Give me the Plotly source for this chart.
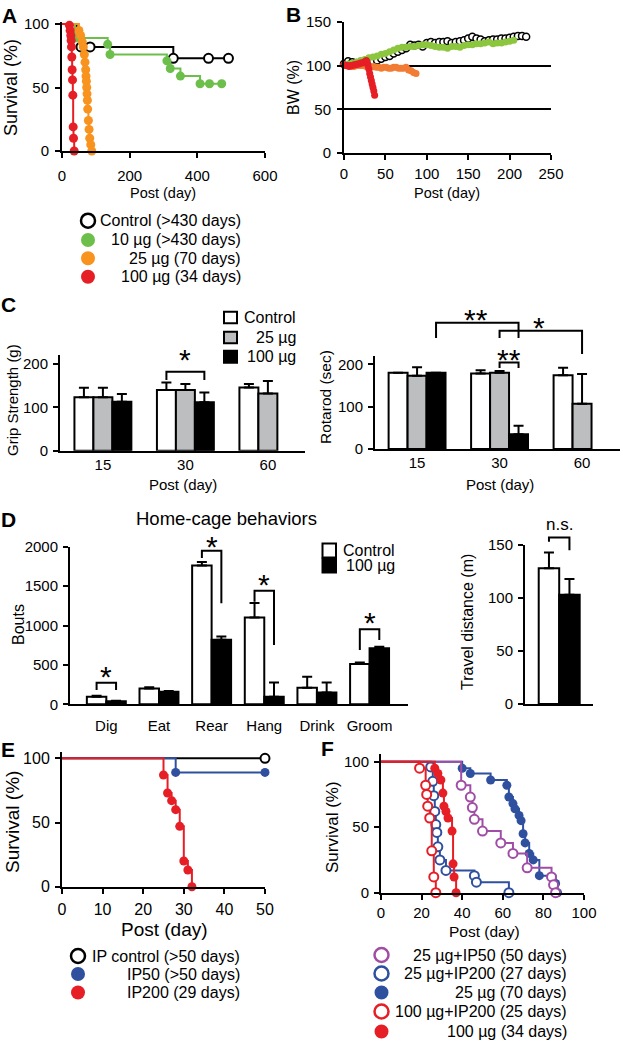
import plotly.graph_objects as go

W, H = 623, 1042
FONT = "Liberation Sans, Arial, sans-serif"

BLACK = "black"
GREEN = "#6cbf4a"
ORANGE = "#f7931e"
RED = "#e61e25"
BLUE = "#2f4f9f"
PURPLE = "#a04ea5"
GREY = "#bcbec0"
B_GREEN = "#8cc63f"
B_ORANGE = "#f27c33"

# ================= DATA =================
# Panel A : survival after injection (Kaplan-Meier)
A_ctrl_day = [0, 43, 56, 83, 329, 433, 492]
A_ctrl_surv = [100, 91, 82, 82, 73, 73, 73]
A_10_day = [0, 38, 135, 142, 310, 320, 350, 408, 436, 472]
A_10_surv = [100, 89, 84, 76, 71, 65, 59, 53, 53, 53]
A_25_day = [0, 50, 55, 60, 63, 66, 68, 70, 71, 72, 73, 74, 75, 76, 78, 80, 82, 85, 88]
A_25_surv = [100, 95, 91, 86, 82, 76, 70, 64, 59, 55, 50, 45, 40, 33, 24, 17, 10, 5, 0]
A_100_day = [0, 22, 24, 26, 27, 28, 29, 30, 31, 32, 33, 34, 36]
A_100_surv = [100, 99, 95, 91, 87, 82, 74, 64, 56, 44, 19, 10, 0]
A_labels = ["Control (>430 days)", "10 µg (>430 days)", "25 µg (70 days)", "100 µg (34 days)"]

# Panel B : body weight (%)
B_ctrl_day = [0, 5, 10, 15, 20, 25, 30, 35, 40, 45, 50, 55, 60, 65, 70, 75, 80, 85, 90, 95, 100,
              105, 110, 115, 120, 125, 130, 135, 140, 145, 150, 155, 160, 165, 170, 175, 180,
              185, 190, 195, 200, 205, 210, 215, 220]
B_ctrl_bw = [102, 105, 104, 103, 102, 103, 104, 105, 106, 108, 110, 111, 114, 116, 118, 120, 124,
             123, 124, 122, 126, 127, 126, 127, 127, 128, 126, 127, 128, 129, 131, 133, 131, 130,
             128, 129, 130, 130, 131, 131, 132, 133, 134, 134, 133]
B_10_day = [0, 5, 10, 15, 20, 25, 30, 35, 40, 45, 50, 55, 60, 65, 70, 75, 80, 85, 90, 95, 100,
            105, 110, 115, 120, 125, 130, 135, 140, 145, 150, 155, 160, 165, 170, 175, 180, 185,
            190, 195, 200, 205]
B_10_bw = [101, 102, 103, 104, 106, 107, 109, 110, 111, 113, 114, 116, 118, 120, 121, 121, 122,
           122, 123, 124, 124, 123, 122, 121, 121, 120, 122, 122, 121, 123, 124, 124, 125, 125,
           126, 127, 125, 126, 126, 127, 128, 129]
B_25_day = [0, 3, 6, 9, 12, 15, 18, 21, 24, 27, 30, 33, 36, 39, 42, 45, 48, 51, 54, 57, 60, 63,
            66, 69, 72, 75, 78, 81, 84, 87]
B_25_bw = [101, 100, 100, 99, 99, 100, 100, 100, 100, 99, 98, 98, 99, 98, 98, 97, 98, 98, 97, 97,
           98, 98, 97, 97, 97, 98, 95, 94, 92, 91]
B_100_day = [0, 2, 4, 6, 8, 10, 12, 14, 16, 18, 20, 22, 24, 26, 27, 28, 29, 30, 31, 32, 33, 34,
             35, 36, 37]
B_100_bw = [101, 100, 100, 99, 100, 100, 101, 101, 102, 102, 103, 103, 104, 105, 106, 104, 100,
            96, 91, 87, 83, 79, 75, 71, 66]

# Panel C : grip strength and rotarod (mean, SEM)
C_days = ["15", "30", "60"]
C_grip_ctrl = [123, 140, 146]
C_grip_ctrl_err = [22, 17, 8]
C_grip_25 = [123, 140, 132]
C_grip_25_err = [22, 14, 29]
C_grip_100 = [113, 112]
C_grip_100_err = [18, 22]
C_rot_ctrl = [180, 178, 174]
C_rot_ctrl_err = [0, 8, 18]
C_rot_25 = [173, 180, 107]
C_rot_25_err = [20, 4, 70]
C_rot_100 = [180, 35]
C_rot_100_err = [0, 20]
C_labels = ["Control", "25 µg", "100 µg"]

# Panel D : home-cage behaviors and travel distance
D_cats = ["Dig", "Eat", "Rear", "Hang", "Drink", "Groom"]
D_ctrl = [95, 200, 1760, 1100, 210, 510]
D_ctrl_err = [12, 15, 45, 185, 140, 20]
D_100 = [40, 160, 820, 95, 150, 710]
D_100_err = [5, 10, 40, 183, 127, 20]
D_travel = [128, 103]
D_travel_err = [15, 15]
D_labels = ["Control", "100 µg"]

# Panel E : IP survival
E_ctrl_day = [0, 50]
E_ctrl_surv = [100, 100]
E_50_day = [0, 28, 50]
E_50_surv = [100, 89, 89]
E_200_day = [0, 25, 26, 27, 28, 29, 30, 31, 32]
E_200_surv = [100, 87, 73, 67, 60, 47, 20, 13, 0]
E_labels = ["IP control (>50 days)", "IP50 (>50 days)", "IP200 (29 days)"]

# Panel F : combined survival
F_p50_day = [0, 39.5, 44, 45, 46, 50, 59, 65, 72, 84, 85, 86]
F_p50_surv = [100, 82, 73, 65, 56, 47, 38, 30, 19, 12, 6, 0]
F_p200_day = [0, 24.5, 25.5, 26, 26.5, 27, 27.5, 28, 29, 32, 46, 47, 63]
F_p200_surv = [100, 96, 85, 74, 62, 52, 46, 35, 25, 17, 13, 8, 0]
F_25_day = [0, 40, 44, 54, 62, 63, 65, 66, 68, 69, 70, 71, 73, 75, 78, 86, 87]
F_25_surv = [100, 95, 91, 86, 82, 73, 68, 64, 59, 55, 45, 38, 30, 25, 13, 7, 0]
F_r200_day = [0, 19, 22, 22.5, 23, 24, 25, 26, 27]
F_r200_surv = [100, 95, 82, 75, 66, 57, 32, 12, 0]
F_r100_day = [0, 26.5, 28, 29.5, 30.5, 31, 32, 33, 35, 35.5, 36, 37]
F_r100_surv = [100, 95, 91, 86, 76, 66, 62, 57, 47, 22, 12, 0]
F_labels = ["25 µg+IP50 (50 days)", "25 µg+IP200 (27 days)", "25 µg (70 days)",
            "100 µg+IP200 (25 days)", "100 µg (34 days)"]

# ================= LAYOUT GEOMETRY (pixels) =================
AX = {
    "A": dict(n=1, xpx=(62, 265), xr=(0, 600), ypx=(151, 21.5), yr=(0, 102)),
    "B": dict(n=2, xpx=(344, 551), xr=(0, 250), ypx=(153, 21.5), yr=(0, 150.5)),
    "Cl": dict(n=3, xpx=(60, 305), xr=(-0.52, 2.45), ypx=(450.7, 355.3), yr=(0, 220)),
    "Cr": dict(n=4, xpx=(375, 620), xr=(-0.51, 2.46), ypx=(449, 355.8), yr=(0, 220)),
    "Dl": dict(n=5, xpx=(70, 408), xr=(-0.69, 5.73), ypx=(704.3, 546.7), yr=(0, 2000)),
    "Dr": dict(n=6, xpx=(525, 593), xr=(-1.17, 2.15), ypx=(704, 545), yr=(0, 150)),
    "E": dict(n=7, xpx=(62, 265), xr=(0, 50), ypx=(886.7, 751.9), yr=(0, 105)),
    "F": dict(n=8, xpx=(381, 584), xr=(0, 100), ypx=(892.7, 753.8), yr=(0, 106)),
}


def ref(k):
    n = AX[k]["n"]
    s = "" if n == 1 else str(n)
    return "x" + s, "y" + s


def xpix(k, v):
    a = AX[k]
    x0, x1 = a["xpx"]
    r0, r1 = a["xr"]
    return x0 + (v - r0) / (r1 - r0) * (x1 - x0)


def ypix(k, v):
    a = AX[k]
    y0, y1 = a["ypx"]
    r0, r1 = a["yr"]
    return y0 + (v - r0) / (r1 - r0) * (y1 - y0)


fig = go.Figure()
shapes = []
anns = []


def text(px, py, s, size, angle=0, xanchor="center", yshift=0):
    anns.append(dict(x=px / W, y=1 - py / H, xref="paper", yref="paper", text=s,
                     showarrow=False, textangle=angle, xanchor=xanchor, yanchor="middle",
                     yshift=yshift, font=dict(family=FONT, size=size, color="black")))


def circle(cx, cy, d, fill, line, lw=2.5):
    r = d / 2
    shapes.append(dict(type="circle", xref="paper", yref="paper",
                       x0=(cx - r) / W, x1=(cx + r) / W, y0=1 - (cy + r) / H, y1=1 - (cy - r) / H,
                       fillcolor=fill, line=dict(color=line, width=lw if line != fill else 0)))


def square(x0, y0, x1, y1, fill):
    shapes.append(dict(type="rect", xref="paper", yref="paper",
                       x0=x0 / W, x1=x1 / W, y0=1 - y1 / H, y1=1 - y0 / H,
                       fillcolor=fill, line=dict(color="black", width=2)))


def bracket(k, xa, xb, ytop, yla, ylb):
    pts = [(xpix(k, xa), ypix(k, yla)), (xpix(k, xa), ypix(k, ytop)),
           (xpix(k, xb), ypix(k, ytop)), (xpix(k, xb), ypix(k, ylb))]
    path = "M " + " L ".join(f"{px / W:.5f},{1 - py / H:.5f}" for px, py in pts)
    shapes.append(dict(type="path", xref="paper", yref="paper", path=path,
                       line=dict(color="black", width=2)))


def star(k, x, y, s, size=30):
    text(xpix(k, x), ypix(k, y), s, size, yshift=-6.5)


def km(k, days, surv, color, filled, size=9, lw=2):
    xa, ya = ref(k)
    n = len(days)
    fig.add_trace(go.Scatter(
        x=days, y=surv, mode="lines+markers", xaxis=xa, yaxis=ya, cliponaxis=False,
        line=dict(color=color, width=lw, shape="hv"),
        marker=dict(size=[0] + [size] * (n - 1), opacity=[0] + [1] * (n - 1), symbol="circle",
                    color=color if filled else "white",
                    line=dict(color=color, width=0 if filled else 2)),
        showlegend=False, hoverinfo="skip"))


def bars(k, x, y, err, fill, offset, width):
    xa, ya = ref(k)
    fig.add_trace(go.Bar(
        x=x, y=y, xaxis=xa, yaxis=ya, offset=offset, width=width,
        marker=dict(color=fill, line=dict(color="black", width=2)),
        error_y=dict(type="data", symmetric=False, array=err, arrayminus=[0] * len(err),
                     color="black", thickness=2, width=5),
        showlegend=False, hoverinfo="skip"))


# ---------------- Panel A ----------------
km("A", A_ctrl_day, A_ctrl_surv, BLACK, False)
km("A", A_10_day, A_10_surv, GREEN, True)
km("A", A_25_day, A_25_surv, ORANGE, True)
km("A", A_100_day, A_100_surv, RED, True)

# ---------------- Panel B ----------------
xa, ya = ref("B")
for d, v, c, filled in [(B_ctrl_day, B_ctrl_bw, BLACK, False), (B_10_day, B_10_bw, B_GREEN, True),
                        (B_25_day, B_25_bw, B_ORANGE, True), (B_100_day, B_100_bw, RED, True)]:
    fig.add_trace(go.Scatter(
        x=d, y=v, mode="markers", xaxis=xa, yaxis=ya, cliponaxis=False,
        marker=dict(size=7, color=c if filled else "white", line=dict(color=c, width=0 if filled else 1.5)),
        showlegend=False, hoverinfo="skip"))

# ---------------- Panel C ----------------
wC = 0.23
gpos = [0, 1, 2]
bars("Cl", gpos, C_grip_ctrl, C_grip_ctrl_err, "white", -1.5 * wC, wC)
bars("Cl", gpos, C_grip_25, C_grip_25_err, GREY, -0.5 * wC, wC)
bars("Cl", gpos[:2], C_grip_100, C_grip_100_err, "black", 0.5 * wC, wC)
bars("Cr", gpos, C_rot_ctrl, C_rot_ctrl_err, "white", -1.5 * wC, wC)
bars("Cr", gpos, C_rot_25, C_rot_25_err, GREY, -0.5 * wC, wC)
bars("Cr", gpos[:2], C_rot_100, C_rot_100_err, "black", 0.5 * wC, wC)

# ---------------- Panel D ----------------
wD = 0.37
dpos = list(range(len(D_cats)))
bars("Dl", dpos, D_ctrl, D_ctrl_err, "white", -wD, wD)
bars("Dl", dpos, D_100, D_100_err, "black", 0, wD)
bars("Dr", [0], D_travel[:1], D_travel_err[:1], "white", -0.5, 1)
bars("Dr", [1], D_travel[1:], D_travel_err[1:], "black", -0.5, 1)

# ---------------- Panel E ----------------
km("E", E_ctrl_day, E_ctrl_surv, BLACK, False, size=9)
km("E", E_50_day, E_50_surv, BLUE, True, size=9)
km("E", E_200_day, E_200_surv, RED, True, size=9)

# ---------------- Panel F ----------------
km("F", F_25_day, F_25_surv, BLUE, True, size=9)
km("F", F_p50_day, F_p50_surv, PURPLE, False, size=9)
km("F", F_p200_day, F_p200_surv, BLUE, False, size=9)
km("F", F_r100_day, F_r100_surv, RED, True, size=9)
km("F", F_r200_day, F_r200_surv, RED, False, size=9)

# ================= AXES =================
base = dict(showline=True, linecolor="black", linewidth=2, ticks="outside", ticklen=5,
            tickwidth=2, tickcolor="black", showgrid=False, zeroline=False, fixedrange=True,
            automargin=False, tickfont=dict(family=FONT, size=15, color="black"))

axis_opts = {
    "A": (dict(tickvals=[0, 200, 400, 600], ticklabelstandoff=5),
          dict(tickvals=[0, 50, 100], ticklabelstandoff=3)),
    "B": (dict(tickvals=[0, 50, 100, 150, 200, 250], ticklabelstandoff=1),
          dict(tickvals=[0, 50, 100, 150], showgrid=True, gridcolor="black", gridwidth=1.5,
               ticklabelstandoff=3)),
    "Cl": (dict(tickvals=gpos, ticktext=C_days, ticks="", ticklen=0, ticklabelstandoff=-1),
           dict(tickvals=[0, 100, 200], ticklabelstandoff=2)),
    "Cr": (dict(tickvals=gpos, ticktext=C_days, ticks="", ticklen=0, ticklabelstandoff=-1),
           dict(tickvals=[0, 100, 200], ticklabelstandoff=2)),
    "Dl": (dict(tickvals=dpos, ticktext=D_cats, ticks="", ticklen=0, ticklabelstandoff=7),
           dict(tickvals=[0, 500, 1000, 1500, 2000], ticklabelstandoff=2)),
    "Dr": (dict(showticklabels=False, ticks="", ticklen=0),
           dict(tickvals=[0, 50, 100, 150], ticklabelstandoff=2)),
    "E": (dict(tickvals=[0, 10, 20, 30, 40, 50], ticklabelstandoff=2,
               tickfont=dict(family=FONT, size=16, color="black")),
          dict(tickvals=[0, 50, 100], ticklabelstandoff=2,
               tickfont=dict(family=FONT, size=16, color="black"))),
    "F": (dict(tickvals=[0, 20, 40, 60, 80, 100], ticklabelstandoff=0),
          dict(tickvals=[0, 50, 100], ticklabelstandoff=2)),
}

layout_axes = {}
for k, a in AX.items():
    n = a["n"]
    s = "" if n == 1 else str(n)
    xo, yo = axis_opts[k]
    xd = dict(base)
    xd.update(domain=[a["xpx"][0] / W, a["xpx"][1] / W], range=list(a["xr"]), anchor="y" + s)
    xd.update(xo)
    yd = dict(base)
    yd.update(domain=[1 - a["ypx"][0] / H, 1 - a["ypx"][1] / H], range=list(a["yr"]), anchor="x" + s)
    yd.update(yo)
    layout_axes["xaxis" + s] = xd
    layout_axes["yaxis" + s] = yd

# ================= TEXT, LEGENDS, BRACKETS =================
# panel letters
for L, (px, py) in {"A": (10, 16), "B": (293, 15), "C": (8, 304), "D": (8, 519),
                    "E": (8, 749), "F": (327, 748)}.items():
    text(px, py, f"<b>{L}</b>", 21)

# axis titles
text(11, 88, "Survival (%)", 18, angle=-90)
text(163, 193, "Post (day)", 14.5)
text(293, 88, "BW (%)", 16, angle=-90)
text(447, 193, "Post (day)", 14.5)
text(12, 400, "Grip Strength (g)", 15, angle=-90)
text(183, 485, "Post (day)", 15)
text(325, 397, "Rotarod (sec)", 15.5, angle=-90)
text(500, 485, "Post (day)", 15)
text(18, 625, "Bouts", 16, angle=-90)
text(226, 518, "Home-cage behaviors", 18.5)
text(467, 622, "Travel distance (m)", 16, angle=-90)
text(12, 822, "Survival (%)", 19, angle=-90)
text(165, 929, "Post (day)", 19)
text(332, 827, "Survival (%)", 17, angle=-90)
text(484, 931, "Post (day)", 15.5)

# legend A
for (cy, col, filled), lab in zip([(220.7, BLACK, False), (240, GREEN, True),
                                   (258.3, ORANGE, True), (276.7, RED, True)], A_labels):
    circle(88, cy, 14, col if filled else "white", col)
    text(243, cy, lab, 16, xanchor="right")

# legend C
for (y0, y1, fill), lab in zip([(311.7, 323.3, "white"), (331.7, 343.3, GREY),
                                (350.7, 362.7, "black")], C_labels):
    square(224, y0, 237, y1, fill)
    text(298, (y0 + y1) / 2, lab, 16, xanchor="right")

# legend D
for (y0, y1, fill), lab in zip([(543.5, 557.5, "white"), (558.5, 572.5, "black")], D_labels):
    square(322.5, y0, 336, y1, fill)
    text(397, (y0 + y1) / 2, lab, 16, xanchor="right")

# legend E
for (cy, col, filled), lab in zip([(956, BLACK, False), (974, BLUE, True), (992.5, RED, True)], E_labels):
    circle(78, cy, 14, col if filled else "white", col)
    text(242, cy, lab, 16, xanchor="right")

# legend F
for (cy, col, filled), lab in zip([(955, PURPLE, False), (973.5, BLUE, False), (992.5, BLUE, True),
                                   (1011.5, RED, False), (1031.5, RED, True)], F_labels):
    circle(381.5, cy, 14, col if filled else "white", col)
    text(569, cy, lab, 16, xanchor="right")

# significance brackets
bracket("Cl", 1 - wC, 1 + wC, 182, 163, 163)
star("Cl", 1, 225, "*")

bracket("Cr", wC, 1 + wC, 298, 262, 262)
star("Cr", 0.71, 321, "**")
bracket("Cr", 1, 2, 279, 262, 224)
star("Cr", 1.48, 302, "*")
bracket("Cr", 1, 1 + wC, 204, 191, 191)
star("Cr", 1.115, 227, "**")

hc = wD / 2
bracket("Dl", 0 - hc, 0 + hc, 274, 181, 181)
star("Dl", 0, 435, "*")
bracket("Dl", 2 - hc, 2 + hc, 1949, 1857, 1282)
star("Dl", 2, 2085, "*")
bracket("Dl", 3 - hc, 3 + hc, 1442, 1302, 753)
star("Dl", 3, 1603, "*")
bracket("Dl", 5 - hc, 5 + hc, 952, 689, 816)
star("Dl", 5, 1120, "*")

bracket("Dr", 0, 1, 157, 153, 145)
text(xpix("Dr", 0.5), ypix("Dr", 169), "n.s.", 17)

fig.update_layout(
    template="none",
    width=W, height=H, margin=dict(l=0, r=0, t=0, b=0, pad=0),
    paper_bgcolor="white", plot_bgcolor="white", barmode="overlay",
    showlegend=False, shapes=shapes, annotations=anns,
    font=dict(family=FONT, color="black"),
    **layout_axes)

fig.write_html("out.html", config={"displayModeBar": False},
               post_script="document.body.style.margin='0px';")
